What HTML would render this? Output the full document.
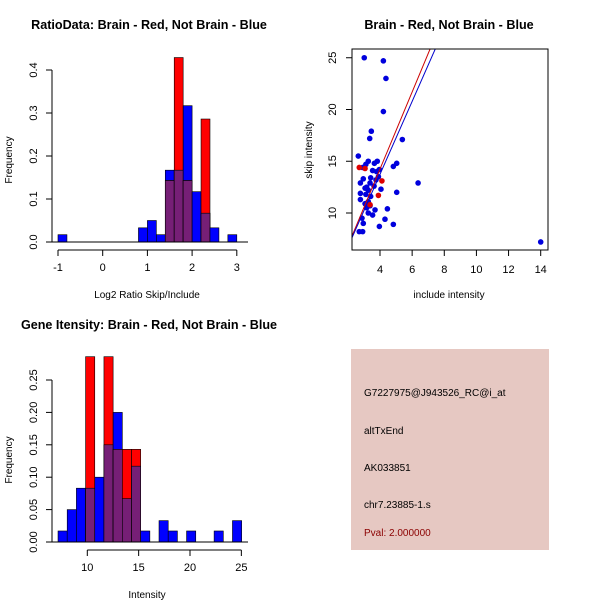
<!DOCTYPE html>
<html><head><meta charset="utf-8"><style>
body{margin:0;background:#fff;}
svg{display:block;font-family:"Liberation Sans",sans-serif;}
</style></head><body>
<svg id="s" width="600" height="600" xmlns="http://www.w3.org/2000/svg">
<rect width="600" height="600" fill="#fff"/>
</svg>
<script>
// Ratio histogram data
const ratioStart = -1.0, ratioWidth = 0.2;
const ratioBlue = [0.017,0,0,0,0,0,0,0,0,0.033,0.05,0.017,0.167,0.167,0.317,0.117,0.067,0.033,0,0.017];
const ratioRed  = [0,0,0,0,0,0,0,0,0,0,0,0,0.143,0.429,0.143,0,0.286,0,0,0];
const ratioXTicks = [-1,0,1,2,3];
const ratioYTicks = [0.0,0.1,0.2,0.3,0.4];
// Intensity histogram data
const intStart = 7.15, intWidth = 0.894;
const intBlue = [0.017,0.05,0.083,0.083,0.1,0.15,0.2,0.067,0.117,0.017,0,0.033,0.017,0,0.017,0,0,0.017,0,0.033];
const intRed  = [0,0,0,0.286,0,0.286,0.143,0.143,0.143,0,0,0,0,0,0,0,0,0,0,0];
const intXTicks = [10,15,20,25];
const intYTicks = [0.00,0.05,0.10,0.15,0.20,0.25];
// Scatter data
const blueX = [3.02,4.21,4.37,4.21,5.39,3.46,3.36,2.65,5.04,4.83,3.27,3.83,3.12,3.65,2.92,3.96,3.54,2.96,3.42,3.90,2.78,6.37,3.38,3.17,3.63,4.06,3.07,3.27,2.78,5.04,3.12,3.42,2.78,3.27,3.07,3.38,3.17,3.69,4.46,3.27,3.54,2.88,4.31,2.96,4.83,3.96,2.71,2.92,14.0,3.79,3.75];
const blueY = [25.0,24.7,23.0,19.8,17.1,17.9,17.2,15.5,14.8,14.5,15.0,15.0,14.7,14.8,14.4,14.2,14.1,13.3,13.4,13.5,12.9,12.9,12.9,12.5,12.6,12.3,12.4,12.2,11.9,12.0,11.8,11.6,11.3,11.1,10.9,10.7,10.5,10.3,10.4,10.0,9.8,9.5,9.4,9.0,8.9,8.7,8.2,8.2,7.2,14.0,13.2];
const redX = [2.71,3.07,4.12,3.90,3.38];
const redY = [14.4,14.3,13.1,11.7,10.8];
const redLine = [-0.63,3.72];   // intercept, slope
const blueLine = [-0.34,3.52];
const scXTicks = [4,6,8,10,12,14];
const scYTicks = [10,15,20,25];

const NS="http://www.w3.org/2000/svg", svg=document.getElementById('s');
function el(tag,attrs,parent,text){const e=document.createElementNS(NS,tag);for(const k in attrs)e.setAttribute(k,attrs[k]);if(text!==undefined)e.textContent=text;(parent||svg).appendChild(e);return e;}
const PURPLE="#761f76";

function hist(g,start,w,blue,red,xs,ys,xTicks,yTicks,xLab,yFmt,lineFrom,lineTo){
  const base=ys(0);
  for(let i=0;i<blue.length;i++){
    const x0=xs(start+i*w),x1=xs(start+(i+1)*w);
    if(blue[i]>0){const r=el('rect',{x:x0,y:ys(blue[i]),width:x1-x0,height:base-ys(blue[i]),fill:'#0000ff',stroke:'#000','stroke-width':0.6},g);
      
      }
    if(red[i]>0){const r=el('rect',{x:x0,y:ys(red[i]),width:x1-x0,height:base-ys(red[i]),fill:'#ff0000',stroke:'#000','stroke-width':0.6},g);
      
      }
    if(red[i]>0&&blue[i]>0){const m=Math.min(red[i],blue[i]);const r=el('rect',{x:x0,y:ys(m),width:x1-x0,height:base-ys(m),fill:PURPLE,stroke:'#000','stroke-width':0.6},g);
      
      }
  }
  el('line',{x1:lineFrom,x2:lineTo,y1:base,y2:base,stroke:'#000'},g);
  const ya=el('g',{},g);
  
  
  el('line',{x1:52,x2:52,y1:ys(yTicks[0]),y2:ys(yTicks[yTicks.length-1]),stroke:'#000'},ya);
  yTicks.forEach(t=>{const y=ys(t);el('line',{x1:46,x2:52,y1:y,y2:y,stroke:'#000'},ya);
    el('text',{x:0,y:0,transform:`translate(37,${y}) rotate(-90)`,'text-anchor':'middle','font-size':11},ya,yFmt(t));});
  const xa=el('g',{},g);
  
  
  const ay=base+8;
  el('line',{x1:xs(xTicks[0]),x2:xs(xTicks[xTicks.length-1]),y1:ay,y2:ay,stroke:'#000'},xa);
  xTicks.forEach(t=>{const x=xs(t);el('line',{x1:x,x2:x,y1:ay,y2:ay+6,stroke:'#000'},xa);
    el('text',{x:x,y:ay+21,'text-anchor':'middle','font-size':11},xa,String(t));});
  const xl=el('text',{x:147,y:base+56,'text-anchor':'middle','font-size':10},g,xLab);
  
  
  const yl=el('text',{x:0,y:0,transform:`translate(12,${base-82}) rotate(-90)`,'text-anchor':'middle','font-size':10},g,'Frequency');
  
  
}

const g1=el('g',{});


el('text',{x:149,y:29,'text-anchor':'middle','font-size':12.6,'font-weight':'bold'},g1,'RatioData: Brain - Red, Not Brain - Blue');
hist(g1,ratioStart,ratioWidth,ratioBlue,ratioRed,v=>102.7+v*44.7,v=>242-v*430,ratioXTicks,ratioYTicks,'Log2 Ratio Skip/Include',t=>t.toFixed(1),48,248);

const g3=el('g',{});


el('text',{x:149,y:329,'text-anchor':'middle','font-size':12.6,'font-weight':'bold'},g3,'Gene Itensity: Brain - Red, Not Brain - Blue');
hist(g3,intStart,intWidth,intBlue,intRed,v=>87.3+(v-10)*10.27,v=>542-v*648,intXTicks,intYTicks,'Intensity',t=>t.toFixed(2),48,248);

const g2=el('g',{});


el('text',{x:449,y:29,'text-anchor':'middle','font-size':12.6,'font-weight':'bold'},g2,'Brain - Red, Not Brain - Blue');
const sx=v=>380+(v-4)*16.07, sy=v=>213-(v-10)*10.35;
el('clipPath',{id:'cp'},g2);
el('rect',{x:352,y:49,width:196,height:201},document.getElementById('cp'));
const pts=el('g',{'clip-path':'url(#cp)'},g2);
for(let i=0;i<blueX.length;i++){const c=el('circle',{cx:sx(blueX[i]),cy:sy(blueY[i]),r:2.8,fill:'#0000dd'},pts);
  
  }
for(let i=0;i<redX.length;i++){const c=el('circle',{cx:sx(redX[i]),cy:sy(redY[i]),r:2.8,fill:'#dd0000'},pts);
  
  }
[[redLine,'#cc0000','red-fit-line'],[blueLine,'#0000cc','blue-fit-line']].forEach(([L,c,n])=>{
  const l=el('line',{x1:sx(0),y1:sy(L[0]),x2:sx(16),y2:sy(L[0]+L[1]*16),stroke:c,'stroke-width':1},pts);
  
  });
el('rect',{x:352,y:49,width:196,height:201,fill:'none',stroke:'#000'},g2);
scXTicks.forEach(t=>{const x=sx(t);el('line',{x1:x,x2:x,y1:250,y2:256,stroke:'#000'},g2);
  el('text',{x:x,y:273,'text-anchor':'middle','font-size':11},g2,String(t));});
scYTicks.forEach(t=>{const y=sy(t);el('line',{x1:346,x2:352,y1:y,y2:y,stroke:'#000'},g2);
  el('text',{x:0,y:0,transform:`translate(336,${y}) rotate(-90)`,'text-anchor':'middle','font-size':11},g2,String(t));});
el('text',{x:449,y:298,'text-anchor':'middle','font-size':10},g2,'include intensity');
el('text',{x:0,y:0,transform:'translate(312,150) rotate(-90)','text-anchor':'middle','font-size':10},g2,'skip intensity');

const g4=el('g',{});


el('rect',{x:351,y:349,width:198,height:201,fill:'#e6c8c2'},g4);
[['G7227975@J943526_RC@i_at',396,'#000'],['altTxEnd',434,'#000'],['AK033851',471,'#000'],['chr7.23885-1.s',508,'#000'],['Pval: 2.000000',536,'#8b0000']].forEach(([t,y,c])=>{
  el('text',{x:364,y:y,'font-size':10,fill:c},g4,t);});
</script>
</body></html>
